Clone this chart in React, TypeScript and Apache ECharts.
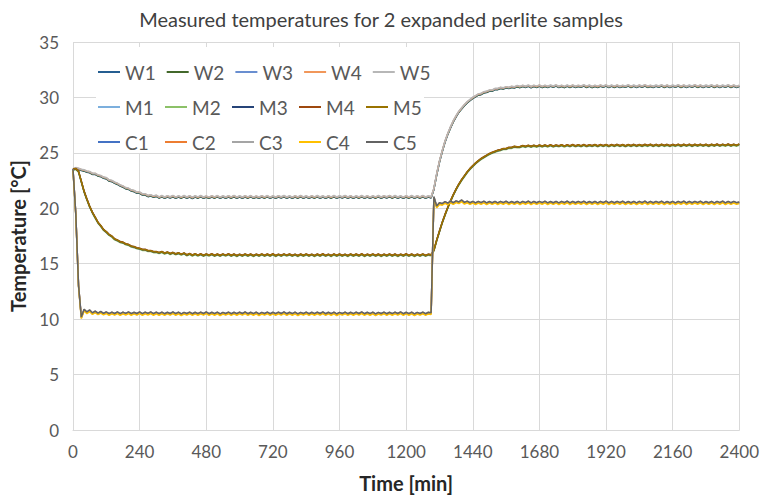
import React, { useEffect, useRef } from "react";
import * as echarts from "echarts";

// ---------- DATA ----------
const TITLE = "Measured temperatures for 2 expanded perlite samples";
const X_NAME = "Time [min]";
const Y_NAME = "Temperature [°C]";

// sample times (minutes), every 10 min from 0 to 2400
const TIME: number[] = Array.from({ length: 241 }, (_, i) => i * 10);

// W group (slow response): 0..300, 310..1290 plateau, 1300..1600 rise, 1610..2400 plateau
const W_TEMP: number[] = [
  23.5, 23.6, 23.55, 23.45, 23.4, 23.3, 23.25, 23.1, 23.1, 22.95,
  22.9, 22.75, 22.7, 22.5, 22.45, 22.3, 22.2, 22.05, 21.95, 21.8,
  21.75, 21.6, 21.55, 21.4, 21.4, 21.25, 21.25, 21.1, 21.15, 21.05,
  21.12,
  20.96, 21.08, 20.95, 21.07, 20.97, 21.09, 20.94, 21.06, 20.96, 21.08,
  20.95, 21.07, 20.93, 21.06, 20.96, 21.08, 20.95, 21.05, 20.94, 21.07,
  20.96, 21.08, 20.94, 21.06, 20.95, 21.07, 20.96, 21.09, 20.94, 21.06,
  20.95, 21.07, 20.96, 21.08, 20.94, 21.05, 20.95, 21.07, 20.96, 21.08,
  20.94, 21.06, 20.95, 21.07, 20.97, 21.08, 20.95, 21.06, 20.94, 21.07,
  20.96, 21.09, 20.95, 21.06, 20.94, 21.07, 20.96, 21.08, 20.95, 21.06,
  20.94, 21.07, 20.96, 21.08, 20.95, 21.06, 20.97, 21.09, 20.95, 21.07,
  20.94, 21.06, 20.96, 21.08, 20.95, 21.07, 20.94, 21.06, 20.96, 21.08,
  20.95, 21.07, 20.97, 21.09, 20.96, 21.08, 20.95, 21.06, 20.94, 21.07,
  20.96, 21.08, 20.95, 21.07, 20.96, 21.09, 20.95, 21.06, 20.98,
  21.75, 23.05, 24.2, 25.15, 26.0, 26.7, 27.3, 27.85, 28.3, 28.7,
  29.0, 29.3, 29.55, 29.75, 29.95, 30.1, 30.25, 30.3, 30.45, 30.5,
  30.6, 30.6, 30.75, 30.75, 30.85, 30.8, 30.9, 30.85, 30.95, 30.9,
  31.0,
  30.93, 31.03, 30.94, 31.05, 30.92, 31.04, 30.95, 31.06, 30.93, 31.04,
  30.94, 31.05, 30.96, 31.07, 30.94, 31.04, 30.93, 31.05, 30.95, 31.06,
  30.94, 31.04, 30.96, 31.07, 30.95, 31.05, 30.93, 31.04, 30.95, 31.06,
  30.96, 31.07, 30.94, 31.05, 30.95, 31.06, 30.94, 31.04, 30.96, 31.07,
  30.95, 31.05, 30.94, 31.06, 30.96, 31.08, 30.95, 31.04, 30.94, 31.05,
  30.96, 31.07, 30.95, 31.06, 30.94, 31.05, 30.96, 31.07, 30.95, 31.06,
  30.94, 31.05, 30.96, 31.08, 30.95, 31.06, 30.94, 31.05, 30.96, 31.07,
  30.95, 31.06, 30.94, 31.05, 30.96, 31.07, 30.95, 31.06, 30.94, 31.03,
];

// M group (medium response)
const M_TEMP: number[] = [
  23.5, 23.55, 23.3, 22.4, 21.5, 20.8, 20.15, 19.6, 19.15, 18.7,
  18.4, 18.05, 17.85, 17.6, 17.45, 17.2, 17.1, 16.95, 16.9, 16.75,
  16.7, 16.55, 16.5, 16.4, 16.35, 16.25, 16.25, 16.15, 16.15, 16.05,
  16.05,
  15.97, 16.06, 15.92, 16.02, 15.88, 15.98, 15.85, 15.95, 15.82, 15.93,
  15.76, 15.88, 15.74, 15.86, 15.73, 15.85, 15.72, 15.84, 15.74, 15.85,
  15.72, 15.83, 15.71, 15.84, 15.73, 15.85, 15.72, 15.83, 15.7, 15.82,
  15.71, 15.84, 15.72, 15.83, 15.7, 15.82, 15.72, 15.84, 15.71, 15.83,
  15.72, 15.85, 15.7, 15.82, 15.71, 15.84, 15.73, 15.83, 15.71, 15.82,
  15.7, 15.83, 15.72, 15.84, 15.71, 15.82, 15.7, 15.83, 15.72, 15.85,
  15.71, 15.82, 15.7, 15.84, 15.72, 15.83, 15.71, 15.82, 15.7, 15.84,
  15.72, 15.83, 15.71, 15.85, 15.7, 15.82, 15.72, 15.84, 15.71, 15.83,
  15.7, 15.82, 15.72, 15.84, 15.71, 15.83, 15.7, 15.82, 15.72, 15.85,
  15.71, 15.83, 15.7, 15.82, 15.72, 15.84, 15.71, 15.82, 15.76,
  16.2, 17.1, 17.9, 18.7, 19.4, 20.05, 20.65, 21.2, 21.7, 22.15,
  22.55, 22.9, 23.25, 23.55, 23.8, 24.05, 24.25, 24.45, 24.6, 24.75,
  24.9, 25.0, 25.1, 25.2, 25.25, 25.35, 25.35, 25.45, 25.45, 25.55,
  25.5,
  25.52, 25.62, 25.54, 25.64, 25.55, 25.65, 25.56, 25.66, 25.57, 25.67,
  25.58, 25.68, 25.57, 25.67, 25.59, 25.69, 25.58, 25.68, 25.6, 25.7,
  25.59, 25.69, 25.6, 25.7, 25.59, 25.69, 25.61, 25.71, 25.6, 25.7,
  25.61, 25.71, 25.6, 25.7, 25.62, 25.72, 25.61, 25.71, 25.6, 25.71,
  25.62, 25.72, 25.61, 25.71, 25.62, 25.72, 25.63, 25.73, 25.61, 25.72,
  25.62, 25.73, 25.63, 25.72, 25.61, 25.72, 25.63, 25.74, 25.62, 25.73,
  25.63, 25.74, 25.62, 25.73, 25.64, 25.74, 25.63, 25.73, 25.62, 25.74,
  25.64, 25.75, 25.63, 25.74, 25.65, 25.75, 25.64, 25.74, 25.65, 25.76,
];

// C group (fast response)
const C_TEMP: number[] = [
  23.5, 19.5, 13.0, 10.15,
  10.85, 10.6, 10.78, 10.52, 10.68, 10.5, 10.64, 10.48, 10.6, 10.45,
  10.58, 10.46, 10.6, 10.44, 10.58, 10.47, 10.6, 10.45, 10.57, 10.46,
  10.6, 10.44, 10.58, 10.47, 10.6, 10.45, 10.58,
  10.45, 10.58, 10.44, 10.57, 10.46, 10.6, 10.45, 10.58, 10.43, 10.56,
  10.46, 10.59, 10.44, 10.57, 10.45, 10.58, 10.46, 10.6, 10.44, 10.57,
  10.45, 10.58, 10.43, 10.56, 10.46, 10.59, 10.44, 10.57, 10.45, 10.58,
  10.46, 10.6, 10.44, 10.57, 10.45, 10.58, 10.43, 10.56, 10.46, 10.59,
  10.44, 10.57, 10.45, 10.58, 10.46, 10.6, 10.44, 10.57, 10.45, 10.58,
  10.43, 10.56, 10.46, 10.59, 10.44, 10.57, 10.45, 10.58, 10.46, 10.6,
  10.44, 10.57, 10.45, 10.58, 10.43, 10.56, 10.46, 10.59, 10.44, 10.57,
  10.45, 10.58, 10.46, 10.6, 10.44, 10.57, 10.45, 10.58, 10.43, 10.56,
  10.46, 10.59, 10.44, 10.57, 10.45, 10.58, 10.46, 10.6, 10.44, 10.57,
  10.45, 10.58, 10.43, 10.56, 10.46, 10.59, 10.44, 10.57, 10.52,
  21.0, 20.15,
  20.45, 20.38, 20.55, 20.42, 20.6, 20.45, 20.62, 20.52, 20.7,
  20.48, 20.6, 20.45, 20.58, 20.44, 20.57, 20.46, 20.59, 20.44, 20.56,
  20.45, 20.58, 20.44, 20.57, 20.46, 20.59, 20.44, 20.56, 20.45, 20.58,
  20.43, 20.57, 20.46, 20.6, 20.44, 20.57, 20.45, 20.58, 20.46, 20.59,
  20.44, 20.56, 20.45, 20.58, 20.43, 20.57, 20.46, 20.6, 20.44, 20.57,
  20.45, 20.58, 20.46, 20.59, 20.44, 20.56, 20.45, 20.58, 20.43, 20.57,
  20.46, 20.6, 20.44, 20.57, 20.45, 20.58, 20.46, 20.59, 20.44, 20.56,
  20.45, 20.58, 20.43, 20.57, 20.46, 20.6, 20.44, 20.57, 20.45, 20.58,
  20.46, 20.59, 20.44, 20.56, 20.45, 20.58, 20.43, 20.57, 20.46, 20.6,
  20.44, 20.57, 20.45, 20.58, 20.46, 20.59, 20.44, 20.56, 20.45, 20.58,
  20.43, 20.57, 20.46, 20.6, 20.44, 20.57, 20.45, 20.58, 20.46, 20.52,
];

// small per-sensor deviations from the group curve (°C)
const W_OFFSETS = [-0.05, -0.03, 0.02, 0.04, 0.07];
const M_OFFSETS = [0.03, -0.05, 0.0, 0.05, 0.02];
const C_OFFSETS = [-0.04, 0.02, 0.04, -0.1, 0.05];

const W_NAMES = ["W1", "W2", "W3", "W4", "W5"];
const M_NAMES = ["M1", "M2", "M3", "M4", "M5"];
const C_NAMES = ["C1", "C2", "C3", "C4", "C5"];

const W_COLORS = ["#255E91", "#43682B", "#698ED0", "#F1975A", "#B7B7B7"];
const M_COLORS = ["#7CAFDD", "#8CC168", "#264478", "#9E480E", "#997300"];
const C_COLORS = ["#4472C4", "#ED7D31", "#A5A5A5", "#FFC000", "#636363"];

const X_TICKS = [0, 240, 480, 720, 960, 1200, 1440, 1680, 1920, 2160, 2400];
const Y_TICKS = [0, 5, 10, 15, 20, 25, 30, 35];

// ---------- CHART ----------
const FONT = "Lato, 'Open Sans', sans-serif";

export default function App() {
  const ref = useRef<HTMLDivElement>(null);

  useEffect(() => {
    document.body.style.margin = "0";
    if (!ref.current) return;
    const chart = echarts.init(ref.current, undefined, { renderer: "svg" });

    const groups = [
      { names: W_NAMES, colors: W_COLORS, base: W_TEMP, offs: W_OFFSETS },
      { names: M_NAMES, colors: M_COLORS, base: M_TEMP, offs: M_OFFSETS },
      { names: C_NAMES, colors: C_COLORS, base: C_TEMP, offs: C_OFFSETS },
    ];

    const series: any[] = [];
    groups.forEach((g) => {
      g.names.forEach((name, k) => {
        series.push({
          type: "line",
          name,
          data: TIME.map((t, i) => [t, +(g.base[i] + g.offs[k]).toFixed(2)]),
          showSymbol: false,
          symbol: "none",
          lineStyle: { width: 1.5, color: g.colors[k] },
          itemStyle: { color: g.colors[k] },
          emphasis: { disabled: true },
          z: 2,
        });
      });
    });

    const legendBase = {
      left: 98,
      orient: "horizontal",
      icon: "rect",
      itemWidth: 22,
      itemHeight: 2,
      itemGap: 11,
      padding: 0,
      selectedMode: false,
      textStyle: {
        fontFamily: FONT,
        fontSize: 19,
        color: "#595959",
        width: 29,
        lineHeight: 20,
      },
    };

    chart.setOption({
      animation: false,
      title: {
        text: TITLE,
        left: "center",
        top: 4,
        textStyle: {
          fontFamily: FONT,
          fontSize: 20,
          fontWeight: "normal",
          color: "#404040",
        },
      },
      graphic: [
        {
          type: "rect",
          shape: { x: 96, y: 47, width: 328, height: 106 },
          style: { fill: "#ffffff" },
          z: 3,
          silent: true,
        },
      ],
      legend: [
        { ...legendBase, top: 62, data: W_NAMES },
        { ...legendBase, top: 97, data: M_NAMES },
        { ...legendBase, top: 132, data: C_NAMES },
      ],
      grid: { left: 72, right: 20, top: 42, bottom: 66, containLabel: false },
      xAxis: {
        type: "value",
        min: X_TICKS[0],
        max: X_TICKS[X_TICKS.length - 1],
        interval: X_TICKS[1] - X_TICKS[0],
        name: X_NAME,
        nameLocation: "middle",
        nameGap: 43,
        nameTextStyle: {
          fontFamily: FONT,
          fontSize: 20,
          fontWeight: "bold",
          color: "#262626",
        },
        axisLine: { show: true, lineStyle: { color: "#d9d9d9", width: 1 } },
        axisTick: { show: false },
        axisLabel: {
          fontFamily: FONT,
          fontSize: 17,
          color: "#595959",
          margin: 13,
          formatter: (v: number) => String(v),
        },
        splitLine: { show: true, lineStyle: { color: "#d9d9d9", width: 1 } },
      },
      yAxis: {
        type: "value",
        min: Y_TICKS[0],
        max: Y_TICKS[Y_TICKS.length - 1],
        interval: Y_TICKS[1] - Y_TICKS[0],
        name: Y_NAME,
        nameLocation: "middle",
        nameGap: 45,
        nameTextStyle: {
          fontFamily: FONT,
          fontSize: 20,
          fontWeight: "bold",
          color: "#262626",
        },
        axisLine: { show: false },
        axisTick: { show: false },
        axisLabel: {
          fontFamily: FONT,
          fontSize: 17,
          color: "#595959",
          margin: 14,
        },
        splitLine: { show: true, lineStyle: { color: "#d9d9d9", width: 1 } },
      },
      series,
    });

    return () => chart.dispose();
  }, []);

  return <div ref={ref} style={{ width: 762, height: 498 }} />;
}
